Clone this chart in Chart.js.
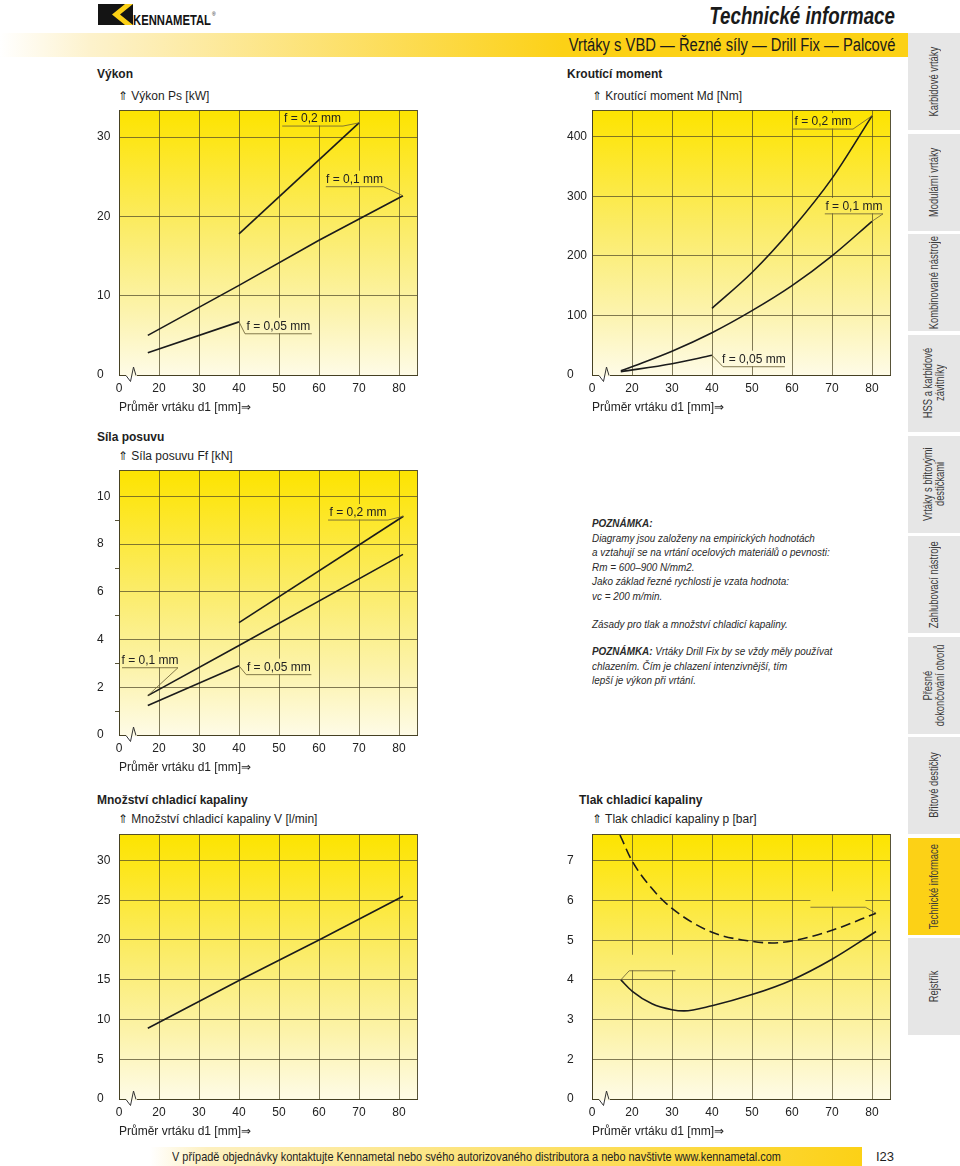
<!DOCTYPE html>
<html lang="cs">
<head>
<meta charset="utf-8">
<title>Vrtáky s VBD – Řezné síly – Drill Fix – Palcové</title>
<script src="https://cdn.jsdelivr.net/npm/chart.js@4.4.0/dist/chart.umd.min.js"></script>
<style>
  body { margin: 0; width: 960px; height: 1166px; position: relative; overflow: hidden;
         background: #fff; color: #1e1e1e; font-family: "Liberation Sans", Arial, sans-serif; }
  .abs { position: absolute; white-space: nowrap; line-height: 14px; }
  .narrow { transform: scaleX(0.84); transform-origin: left center; }
  .narrowR { transform: scaleX(0.84); transform-origin: right center; }
  .sec { font-weight: bold; font-size: 12px; }
  .ytitle { font-size: 12px; }
  canvas { position: absolute; }
  .tab { position: absolute; left: 908px; width: 52px; height: 97px; background: #e6e6e6;
         display: flex; align-items: center; justify-content: center; }
  .tab span { writing-mode: vertical-rl; transform: rotate(180deg) scaleY(0.78); font-size: 12px; line-height: 12px;
              color: #3a3a3a; text-align: center; white-space: nowrap; }
  .note { position: absolute; left: 592px; font-size: 11px; font-style: italic; line-height: 14.5px; color: #2a2a2a;
          white-space: nowrap; transform: scaleX(0.9); transform-origin: left top; }
</style>
</head>
<body>

<!-- header -->
<svg class="abs" style="left:97px;top:4px" width="124" height="24">
  <rect x="1" y="0" width="35" height="21" fill="#141414"/>
  <polygon points="15,10.5 28,0 36,0 23,10.5 36,21 28,21" fill="#fcd116"/>
  <text x="36" y="21" textLength="78" lengthAdjust="spacingAndGlyphs" font-family="Liberation Sans" font-weight="bold" font-size="14.5" fill="#141414">KENNAMETAL</text>
  <text x="115" y="12" font-family="Liberation Sans" font-size="5" fill="#141414">®</text>
</svg>
<div class="abs narrowR" style="right:65px;top:2px;font-size:24px;line-height:28px;font-weight:bold;font-style:italic;color:#1a1a1a;transform:scaleX(0.78)">Technické informace</div>
<div class="abs" style="left:0;top:33px;width:908px;height:24px;background:linear-gradient(to right,#ffffff 0%,#fdf2cc 10%,#fcd116 62%,#fcd116 100%)"></div>
<div class="abs narrowR" style="right:65px;top:34px;font-size:18px;line-height:22px;color:#1a1a1a;transform:scaleX(0.82)">Vrtáky s VBD — Řezné síly — Drill Fix — Palcové</div>

<!-- section titles -->
<div class="abs sec" style="left:97px;top:67px">Výkon</div>
<div class="abs ytitle" style="left:118px;top:89px">⇑ Výkon Ps [kW]</div>
<div class="abs sec" style="left:567px;top:67px">Kroutící moment</div>
<div class="abs ytitle" style="left:592px;top:89px">⇑ Kroutící moment Md [Nm]</div>
<div class="abs sec" style="left:97px;top:430px">Síla posuvu</div>
<div class="abs ytitle" style="left:118px;top:449px">⇑ Síla posuvu Ff [kN]</div>
<div class="abs sec" style="left:97px;top:793px">Množství chladicí kapaliny</div>
<div class="abs ytitle" style="left:118px;top:812px">⇑ Množství chladicí kapaliny V [l/min]</div>
<div class="abs sec" style="left:579px;top:793px">Tlak chladicí kapaliny</div>
<div class="abs ytitle" style="left:592px;top:812px">⇑ Tlak chladicí kapaliny p [bar]</div>

<!-- notes -->
<div class="note" style="top:516px"><b>POZNÁMKA:</b><br>Diagramy jsou založeny na empirických hodnotách<br>a vztahují se na vrtání ocelových materiálů o pevnosti:<br>Rm = 600–900 N/mm2.<br>Jako základ řezné rychlosti je vzata hodnota:<br>vc = 200 m/min.</div>
<div class="note" style="top:617px">Zásady pro tlak a množství chladicí kapaliny.</div>
<div class="note" style="top:644px"><b>POZNÁMKA:</b> Vrtáky Drill Fix by se vždy měly používat<br>chlazením. Čím je chlazení intenzivnější, tím<br>lepší je výkon při vrtání.</div>

<!-- charts -->
<canvas id="cPower" width="330" height="320" style="left:97px;top:100px"></canvas>
<canvas id="cTorque" width="333" height="320" style="left:567px;top:100px"></canvas>
<canvas id="cFeed" width="330" height="320" style="left:97px;top:460px"></canvas>
<canvas id="cCoolant" width="330" height="320" style="left:97px;top:824px"></canvas>
<canvas id="cPressure" width="333" height="320" style="left:567px;top:824px"></canvas>

<!-- side tabs -->
<div class="tab" style="top:33px"><span>Karbidové vrtáky</span></div>
<div class="tab" style="top:134px"><span>Modulární vrtáky</span></div>
<div class="tab" style="top:234px"><span>Kombinované nástroje</span></div>
<div class="tab" style="top:335px"><span>HSS a karbidové<br>závitníky</span></div>
<div class="tab" style="top:436px"><span>Vrtáky s břitovými<br>destičkami</span></div>
<div class="tab" style="top:536px"><span>Zahlubovací nástroje</span></div>
<div class="tab" style="top:637px"><span>Přesné<br>dokončování otvorů</span></div>
<div class="tab" style="top:737px"><span>Břitové destičky</span></div>
<div class="tab" style="top:838px;background:#fcd116"><span>Technické informace</span></div>
<div class="tab" style="top:938px"><span>Rejstřík</span></div>

<!-- footer -->
<div class="abs" style="left:150px;top:1147px;width:712px;height:19px;background:linear-gradient(to right,#ffffff 0%,#fdf0c0 8%,#fcd116 100%)"></div>
<div class="abs narrow" style="left:172px;top:1149px;font-size:13px;line-height:15px">V případě objednávky kontaktujte Kennametal nebo svého autorizovaného distributora a nebo navštivte www.kennametal.com</div>
<div class="abs" style="left:876px;top:1149px;font-size:13px;line-height:15px">I23</div>

<script>
// x axis is broken: the "0" label sits where 10 mm would be
var xTickValues = [10, 20, 30, 40, 50, 60, 70, 80];
var xTickLabels = ['0', '20', '30', '40', '50', '60', '70', '80'];

// Výkon Ps [kW]
var powerYTicks = [0, 10, 20, 30];
var powerYLabels = ['0', '10', '20', '30'];
var powerF005D = [17.2, 40];
var powerF005 = [2.8, 6.7];
var powerF01D = [17.2, 40, 60, 81];
var powerF01 = [5.0, 11.3, 17.0, 22.6];
var powerF02D = [40, 70];
var powerF02 = [17.8, 31.8];

// Kroutící moment Md [Nm]
var torqueYTicks = [0, 100, 200, 300, 400];
var torqueYLabels = ['0', '100', '200', '300', '400'];
var torqueF005D = [17.2, 30, 40];
var torqueF005 = [5.5, 19, 33];
var torqueF01D = [17.2, 20, 30, 40, 50, 60, 70, 80];
var torqueF01 = [7, 14, 40, 71, 108, 150, 200, 258];
var torqueF02D = [40, 50, 60, 70, 80];
var torqueF02 = [112, 172, 245, 330, 435];

// Síla posuvu Ff [kN]
var feedYTicks = [0, 1, 2, 3, 4, 5, 6, 7, 8, 9, 10];
var feedYLabels = ['0', '', '2', '', '4', '', '6', '', '8', '', '10'];
var feedF005D = [17.2, 40];
var feedF005 = [1.24, 2.9];
var feedF01D = [17.2, 40, 81];
var feedF01 = [1.65, 3.75, 7.57];
var feedF02D = [40, 81.1];
var feedF02 = [4.71, 9.17];

// Množství chladicí kapaliny V [l/min]
var coolantYTicks = [0, 5, 10, 15, 20, 25, 30];
var coolantYLabels = ['0', '5', '10', '15', '20', '25', '30'];
var coolantD = [17.2, 40, 60, 81];
var coolantV = [8.9, 14.9, 20.0, 25.5];

// Tlak chladicí kapaliny p [bar] (y axis broken too: "0" sits at 1)
var pressureYTicks = [1, 2, 3, 4, 5, 6, 7];
var pressureYLabels = ['0', '2', '3', '4', '5', '6', '7'];
var pressureUpperD = [17, 20, 25, 30, 40, 50, 55, 60, 70, 81];
var pressureUpper = [7.65, 7.0, 6.3, 5.8, 5.2, 4.97, 4.93, 4.98, 5.25, 5.68];
var pressureLowerD = [17.2, 20, 25, 30, 33, 40, 50, 60, 70, 81];
var pressureLower = [4.0, 3.72, 3.4, 3.25, 3.22, 3.35, 3.63, 4.0, 4.52, 5.22];

var gridColor = 'rgba(80,74,40,0.72)';
var frameColor = 'rgba(70,64,34,0.9)';
var leaderColor = 'rgba(110,100,55,0.95)';
var lineColor = '#1b1b1b';

Chart.defaults.font.family = '"Liberation Sans", Arial, sans-serif';
Chart.defaults.font.size = 12;
Chart.defaults.color = '#222';

function pts(xs, ys) {
  return xs.map(function (x, i) { return { x: x, y: ys[i] }; });
}

function plotGradient(chart) {
  var a = chart.chartArea;
  var g = chart.ctx.createLinearGradient(0, a.top, 0, a.bottom);
  g.addColorStop(0, '#fce400');
  g.addColorStop(0.12, '#fde61a');
  g.addColorStop(0.45, '#fbec68');
  g.addColorStop(0.75, '#fcf3aa');
  g.addColorStop(1, '#fefbe6');
  return g;
}

// background, label boxes + leaders, frame and axis break
var drillDecor = {
  id: 'drillDecor',
  beforeDraw: function (chart) {
    var a = chart.chartArea, ctx = chart.ctx;
    ctx.save();
    ctx.fillStyle = plotGradient(chart);
    ctx.fillRect(a.left, a.top, a.right - a.left, a.bottom - a.top);
    ctx.restore();
  },
  beforeDatasetsDraw: function (chart, args, opts) {
    var ctx = chart.ctx, xs = chart.scales.x, ys = chart.scales.y;
    ctx.save();
    ctx.fillStyle = plotGradient(chart);
    (opts.labels || []).forEach(function (l) {
      var x1 = xs.getPixelForValue(l.x1), x2 = xs.getPixelForValue(l.x2), y = ys.getPixelForValue(l.y);
      ctx.fillRect(x1, y - 16, x2 - x1, 15.5);
    });
    ctx.restore();
  },
  afterDatasetsDraw: function (chart, args, opts) {
    var ctx = chart.ctx, xs = chart.scales.x, ys = chart.scales.y;
    ctx.save();
    (opts.labels || []).forEach(function (l) {
      var x1 = xs.getPixelForValue(l.x1), x2 = xs.getPixelForValue(l.x2), y = ys.getPixelForValue(l.y);
      var pts = chart.getDatasetMeta(l.ds).data;
      var t = l.pt === 'first' ? pts[0] : pts[pts.length - 1];
      var near = l.end === 'left' ? x1 : x2, far = l.end === 'left' ? x2 : x1;
      ctx.strokeStyle = leaderColor;
      ctx.lineWidth = 0.9;
      ctx.beginPath();
      ctx.moveTo(far, y);
      ctx.lineTo(near, y);
      ctx.lineTo(t.x, t.y);
      ctx.stroke();
      if (l.text) {
        ctx.fillStyle = '#222';
        ctx.font = '12px "Liberation Sans", Arial, sans-serif';
        ctx.textAlign = 'center';
        ctx.textBaseline = 'middle';
        ctx.fillText(l.text, (x1 + x2) / 2, y - 7);
      }
    });
    ctx.restore();
  },
  afterDraw: function (chart) {
    var a = chart.chartArea, ctx = chart.ctx;
    ctx.save();
    ctx.strokeStyle = frameColor;
    ctx.lineWidth = 1;
    ctx.strokeRect(Math.round(a.left) + 0.5, Math.round(a.top) + 0.5,
                   Math.round(a.right - a.left), Math.round(a.bottom - a.top));
    // break sign on the x axis
    var b = Math.round(a.bottom) + 0.5, l = a.left;
    ctx.fillStyle = '#fefbe6';
    ctx.fillRect(l + 7, b - 1, 11, 2);
    ctx.strokeStyle = '#333';
    ctx.lineWidth = 1;
    ctx.beginPath();
    ctx.moveTo(l + 7, b);
    ctx.lineTo(l + 11.5, b + 6);
    ctx.lineTo(l + 14.5, b - 8.5);
    ctx.lineTo(l + 17, b);
    ctx.stroke();
    ctx.restore();
  }
};

function makeChart(id, cfg) {
  var minor = !!cfg.minor;
  return new Chart(document.getElementById(id), {
    type: 'line',
    data: { datasets: cfg.datasets },
    plugins: [drillDecor],
    options: {
      responsive: false,
      animation: false,
      events: [],
      layout: { padding: { top: 8, right: 10, left: 0, bottom: 0 } },
      elements: { point: { radius: 0 }, line: { borderColor: lineColor, borderWidth: 1.6, fill: false } },
      plugins: {
        legend: { display: false },
        tooltip: { enabled: false },
        drillDecor: { labels: cfg.labels || [] }
      },
      scales: {
        x: {
          type: 'linear', min: 10, max: 84.5,
          afterBuildTicks: function (s) { s.ticks = xTickValues.map(function (v) { return { value: v }; }); },
          afterFit: function (s) { s.height = 45; },
          grid: { color: gridColor, drawTicks: false },
          border: { color: frameColor },
          ticks: { padding: 6, autoSkip: false, maxRotation: 0,
                   callback: function (v, i) { return xTickLabels[i]; } },
          title: { display: true, text: 'Průměr vrtáku d1 [mm]⇒', align: 'start', padding: { top: 0, bottom: 5 } }
        },
        y: {
          type: 'linear', min: cfg.yMin, max: cfg.yMax,
          afterBuildTicks: function (s) { s.ticks = cfg.yTicks.map(function (v) { return { value: v }; }); },
          afterFit: function (s) { s.width = cfg.yWidth; },
          grid: {
            drawTicks: minor,
            tickLength: 4,
            color: function (c) { return minor && cfg.yLabels[c.index] === '' ? 'rgba(0,0,0,0)' : gridColor; },
            tickColor: function (c) { return cfg.yLabels[c.index] === '' ? frameColor : 'rgba(0,0,0,0)'; }
          },
          border: { color: frameColor },
          ticks: { crossAlign: 'far', autoSkip: false,
                   callback: function (v, i) { return cfg.yLabels[i]; } }
        }
      }
    }
  });
}

makeChart('cPower', {
  yMin: 0, yMax: 33.4, yWidth: 22, yTicks: powerYTicks, yLabels: powerYLabels,
  datasets: [
    { label: 'f = 0,05 mm', data: pts(powerF005D, powerF005) },
    { label: 'f = 0,1 mm', data: pts(powerF01D, powerF01) },
    { label: 'f = 0,2 mm', data: pts(powerF02D, powerF02) }
  ],
  labels: [
    { text: 'f = 0,2 mm', x1: 50.8, x2: 66, y: 31.4, end: 'right', ds: 2, pt: 'last' },
    { text: 'f = 0,1 mm', x1: 61.7, x2: 76.1, y: 23.75, end: 'right', ds: 1, pt: 'last' },
    { text: 'f = 0,05 mm', x1: 41.5, x2: 58.2, y: 5.2, end: 'left', ds: 0, pt: 'last' }
  ]
});

makeChart('cTorque', {
  yMin: 0, yMax: 444.5, yWidth: 25, yTicks: torqueYTicks, yLabels: torqueYLabels,
  datasets: [
    { label: 'f = 0,05 mm', data: pts(torqueF005D, torqueF005), cubicInterpolationMode: 'monotone' },
    { label: 'f = 0,1 mm', data: pts(torqueF01D, torqueF01), cubicInterpolationMode: 'monotone' },
    { label: 'f = 0,2 mm', data: pts(torqueF02D, torqueF02), cubicInterpolationMode: 'monotone' }
  ],
  labels: [
    { text: 'f = 0,2 mm', x1: 60.25, x2: 75.25, y: 412.8, end: 'right', ds: 2, pt: 'last' },
    { text: 'f = 0,1 mm', x1: 68.2, x2: 82.75, y: 270.5, end: 'right', ds: 1, pt: 'last' },
    { text: 'f = 0,05 mm', x1: 42.75, x2: 58.2, y: 13.9, end: 'left', ds: 0, pt: 'last' }
  ]
});

makeChart('cFeed', {
  yMin: 0, yMax: 11.1, yWidth: 22, yTicks: feedYTicks, yLabels: feedYLabels, minor: true,
  datasets: [
    { label: 'f = 0,05 mm', data: pts(feedF005D, feedF005) },
    { label: 'f = 0,1 mm', data: pts(feedF01D, feedF01) },
    { label: 'f = 0,2 mm', data: pts(feedF02D, feedF02) }
  ],
  labels: [
    { text: 'f = 0,2 mm', x1: 62.25, x2: 77.25, y: 9.01, end: 'right', ds: 2, pt: 'last' },
    { text: 'f = 0,1 mm', x1: 10.75, x2: 24.75, y: 2.82, end: 'right', ds: 1, pt: 'first' },
    { text: 'f = 0,05 mm', x1: 41.8, x2: 58.1, y: 2.53, end: 'left', ds: 0, pt: 'last' }
  ]
});

makeChart('cCoolant', {
  yMin: 0, yMax: 33.3, yWidth: 22, yTicks: coolantYTicks, yLabels: coolantYLabels,
  datasets: [
    { label: 'V', data: pts(coolantD, coolantV) }
  ]
});

makeChart('cPressure', {
  yMin: 1, yMax: 7.67, yWidth: 25, yTicks: pressureYTicks, yLabels: pressureYLabels,
  datasets: [
    { label: 'p max', data: pts(pressureUpperD, pressureUpper), cubicInterpolationMode: 'monotone', borderDash: [10, 5] },
    { label: 'p min', data: pts(pressureLowerD, pressureLower), cubicInterpolationMode: 'monotone' }
  ],
  labels: [
    { text: '', x1: 64.6, x2: 78.35, y: 5.83, end: 'right', ds: 0, pt: 'last' },
    { text: '', x1: 19.3, x2: 30.85, y: 4.23, end: 'left', ds: 1, pt: 'first' }
  ]
});
</script>
</body>
</html>
